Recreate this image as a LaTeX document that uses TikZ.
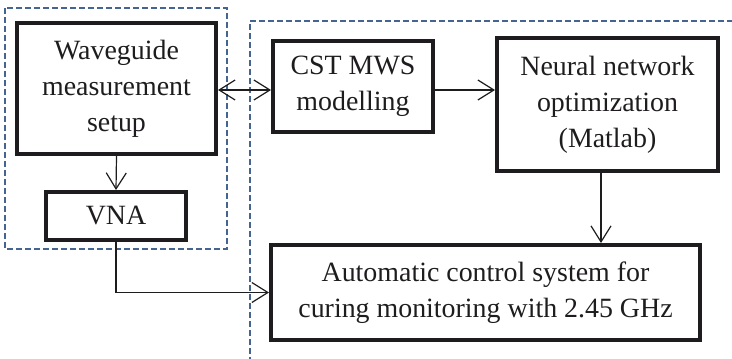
\documentclass[tikz,border=0pt]{standalone}
\usepackage{fontspec}
\setmainfont{Liberation Serif}
\usetikzlibrary{arrows.meta}
\definecolor{dashblue}{RGB}{68,100,145}
\definecolor{ink}{RGB}{30,28,30}
\begin{document}
\begin{tikzpicture}[x=1bp,y=1bp,
  blk/.style={draw=ink,line width=4bp,align=center,inner sep=0pt,
    font=\fontsize{28}{36}\selectfont,text=ink},
  conn/.style={draw=ink,line width=1.2bp,-{Straight Barb[length=16bp,width=20bp,line width=1.2bp]}},
  grp/.style={draw=dashblue,line width=1.6bp,dash pattern=on 6bp off 3bp}]
\useasboundingbox (0,0) rectangle (732,358);
\clip (0,0) rectangle (732,358);
% dashed groups
\draw[grp] (5,350) rectangle (227,109);
\draw[grp] (250,-5) -- (250,337) -- (740,337);
% blocks
\node[blk,minimum width=199bp,minimum height=131bp] (wg) at (116.5,269.5) {Waveguide\\measurement\\setup};
\node[blk,minimum width=140bp,minimum height=48bp] (vna) at (116,142) {VNA};
\node[blk,minimum width=160bp,minimum height=91bp] (cst) at (353,271.5) {CST MWS\\modelling};
\node[blk,minimum width=221bp,minimum height=133bp] (nn) at (607.5,253.5) {Neural network\\optimization\\(Matlab)};
\node[blk,minimum width=429bp,minimum height=95bp] (auto) at (485.5,65.5) {Automatic control system for\\curing monitoring with 2.45 GHz};
% connectors
\coordinate (ya) at (0,268);
\coordinate (xn) at (601,0);
\draw[conn,{Straight Barb[length=16bp,width=20bp,line width=1.2bp]}-{Straight Barb[length=16bp,width=20bp,line width=1.2bp]}] (wg.east |- ya) -- (cst.west |- ya);
\draw[conn] (cst.east |- ya) -- (nn.west |- ya);
\draw[conn] (wg.south) -- (vna.north);
\draw[conn] (nn.south -| xn) -- (auto.north -| xn);
\draw[conn] (vna.south) |- (auto.west);
\end{tikzpicture}
\end{document}
